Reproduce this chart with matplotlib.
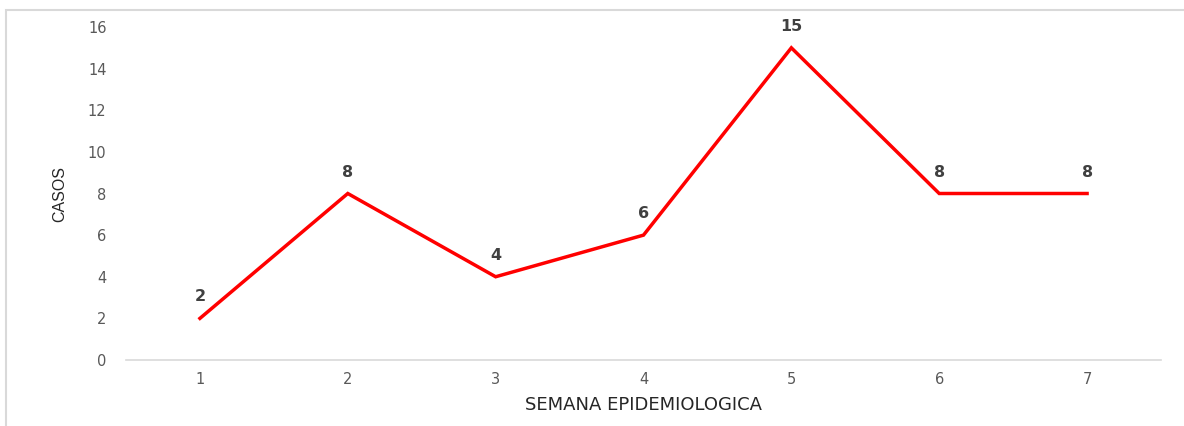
import matplotlib.pyplot as plt
from matplotlib.patches import Rectangle

semanas = [1, 2, 3, 4, 5, 6, 7]
casos = [2, 8, 4, 6, 15, 8, 8]
y_ticks = [0, 2, 4, 6, 8, 10, 12, 14, 16]

fig = plt.figure(figsize=(11.84, 4.26), dpi=100)
ax = fig.add_axes([126 / 1184, 1 - 360 / 426, (1161 - 126) / 1184, (360 - 27) / 426])

ax.plot(semanas, casos, color='#FF0000', linewidth=2.5, solid_joinstyle='miter')
for x, y in zip(semanas, casos):
    ax.annotate(str(y), (x, y), xytext=(0, 10), textcoords='offset points',
                ha='center', va='bottom', fontsize=11.5, fontweight='bold', color='#404040')

ax.set_xlim(0.5, 7.5)
ax.set_ylim(0, 16)
ax.set_xticks(semanas)
ax.set_yticks(y_ticks)
ax.tick_params(axis='y', length=0, labelsize=10.5, colors='#595959', pad=14)
ax.tick_params(axis='x', length=0, labelsize=10.5, colors='#595959', pad=9)
for s in ['top', 'right', 'left']:
    ax.spines[s].set_visible(False)
ax.spines['bottom'].set_color('#D9D9D9')
ax.spines['bottom'].set_linewidth(1.2)

ax.set_xlabel('SEMANA EPIDEMIOLOGICA', fontsize=13, color='#262626', labelpad=6)
ax.set_ylabel('CASOS', fontsize=11.5, color='#262626', family='Liberation Sans', labelpad=15)

fig.add_artist(Rectangle((6 / 1184, -0.1), 1.2, 416 / 426 + 0.1, transform=fig.transFigure,
                         fill=False, edgecolor='#D9D9D9', linewidth=1.5))

fig.savefig('out.png', dpi=100)
